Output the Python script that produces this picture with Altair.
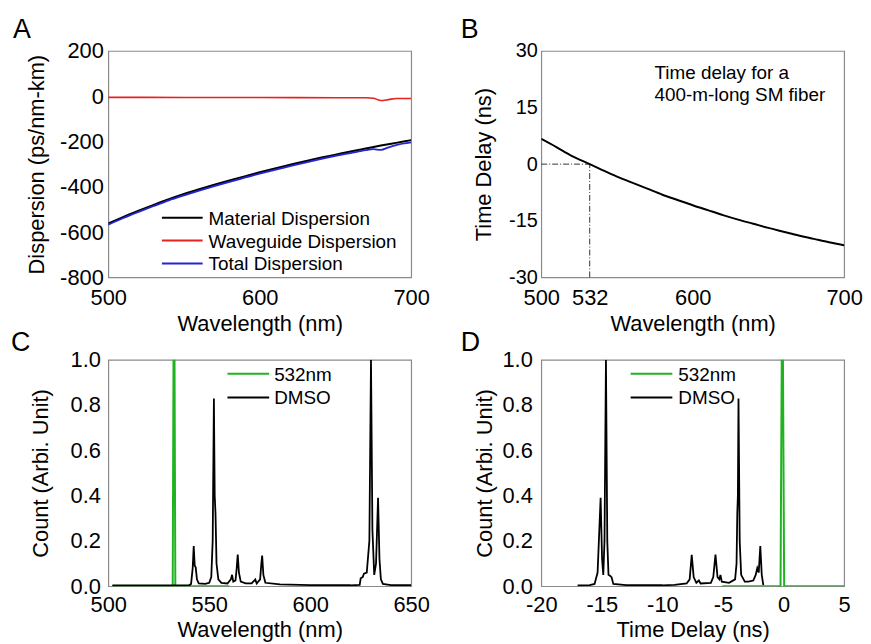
import altair as alt
import pandas as pd

FONT = "Liberation Sans"

# ---------------- Panel A: dispersion ----------------
wl_a = [500, 510, 520, 530, 540, 550, 560, 570, 580, 590, 600,
        610, 620, 630, 640, 650, 660, 670, 680, 690, 700]
material = [-562, -533, -506, -480, -455, -432, -411, -391, -372, -354, -336,
            -319, -303, -287, -272, -258, -244, -231, -218, -206, -194]
wg_x = [500, 550, 600, 650, 670, 675, 680, 685, 690, 700]
wg_y = [-5, -5.5, -6, -6.5, -7, -9, -19, -15, -10, -10]
tot_x = [500, 510, 520, 530, 540, 550, 560, 570, 580, 590, 600,
         610, 620, 630, 640, 650, 660, 670, 675, 680, 685, 690, 700]
tot_y = [-567, -538, -511, -485, -460, -438, -417, -397, -378, -360, -342,
         -325, -309, -293, -278, -264, -251, -238, -234, -237, -226, -216, -204]
legend_a = ["Material Dispersion", "Waveguide Dispersion", "Total Dispersion"]
colors_a = ["#000000", "#e3231f", "#2424d4"]

# ---------------- Panel B: time delay ----------------
wl_b = [500, 510, 520, 532, 540, 550, 560, 570, 580, 590, 600,
        610, 620, 630, 640, 650, 660, 670, 680, 690, 700]
delay = [6.7, 4.5, 2.2, 0.0, -1.5, -3.3, -4.9, -6.5, -8.1, -9.5, -10.9,
         -12.2, -13.5, -14.7, -15.8, -16.9, -17.9, -18.9, -19.8, -20.7, -21.5]
note_b = ["Time delay for a", "400-m-long SM fiber"]

# ---------------- Panel C: spectrum vs wavelength ----------------
green_c_x = [502, 531.9, 532.3, 532.8, 533.2, 560]
green_c_y = [0, 0, 1.0, 1.0, 0, 0]
dmso_c_x = [502, 530, 540, 541, 541.8, 542.3, 542.8, 543.3, 543.9, 544.8, 548,
            550, 551, 551.7, 552.3, 552.7, 553.1, 553.6, 554.5, 556, 559,
            560.7, 561.3, 561.9, 563, 563.6, 564.1, 564.7, 565.6, 568, 571,
            572.8, 573.5, 575.2, 575.8, 576.2, 576.8, 577.8, 585, 600, 620,
            624.5, 625, 626, 626.6, 628, 629.3, 630.1, 630.8, 631.7, 632.6,
            633.6, 634.3, 635, 636, 640, 650]
dmso_c_y = [0.003, 0.003, 0.004, 0.01, 0.08, 0.177, 0.09, 0.083, 0.03, 0.012, 0.01,
            0.015, 0.04, 0.2, 0.829, 0.4, 0.32, 0.1, 0.03, 0.015, 0.012,
            0.03, 0.05, 0.02, 0.025, 0.08, 0.14, 0.06, 0.02, 0.012, 0.012,
            0.03, 0.012, 0.03, 0.1, 0.135, 0.05, 0.015, 0.008, 0.005, 0.004,
            0.006, 0.035, 0.04, 0.055, 0.06, 0.2, 1.0, 0.25, 0.05, 0.1,
            0.39, 0.12, 0.03, 0.01, 0.005, 0.004]

# ---------------- Panel D: spectrum vs time delay ----------------
green_d_x = [-5.07, -0.25, -0.15, -0.05, 0.05, 5]
green_d_y = [0, 0, 1.0, 1.0, 0, 0]
dmso_d_x = [-17.0, -16.0, -15.6, -15.35, -15.1, -14.98, -14.88, -14.78, -14.66,
            -14.55, -14.45, -14.3, -14.2, -14.05, -13.0, -10.0, -9.0, -8.0,
            -7.75, -7.58, -7.42, -7.2, -6.99, -6.85, -6.0, -5.8, -5.62, -5.45,
            -5.3, -5.21, -5.1, -4.5, -4.0, -3.88, -3.82, -3.77, -3.72, -3.62,
            -3.5, -3.2, -2.9, -2.5, -2.3, -2.17, -2.05, -1.92, -1.8, -1.67]
dmso_d_y = [0.003, 0.005, 0.01, 0.06, 0.39, 0.12, 0.05, 0.2, 1.0,
            0.2, 0.05, 0.045, 0.04, 0.01, 0.005, 0.004, 0.006, 0.012,
            0.03, 0.138, 0.04, 0.015, 0.025, 0.012, 0.015, 0.04, 0.14, 0.04,
            0.03, 0.05, 0.02, 0.015, 0.03, 0.1, 0.32, 0.4, 0.829, 0.2,
            0.05, 0.02, 0.02, 0.025, 0.05, 0.08, 0.06, 0.177, 0.05, 0.005]
legend_cd = ["532nm", "DMSO"]
colors_cd = ["#1fb41f", "#000000"]

W, H = 305, 228
HYPHEN = "replace(datum.label, '\u2212', '-')"


def xy(xs, ys):
    return pd.DataFrame({"x": xs, "y": ys})


def x_axis(values, title, label_pad, title_y, fmt=None):
    kw = dict(values=values, title=title, labelFontSize=22, labelFont=FONT,
              labelColor="black", ticks=False, domain=False, grid=False,
              labelPadding=label_pad, labelFlush=False, labelOverlap=False,
              labelExpr=HYPHEN,
              titleFontSize=22, titleFont=FONT, titleFontWeight="normal",
              titleColor="black", titleY=title_y, titleBaseline="alphabetic")
    if fmt:
        kw["format"] = fmt
    return alt.Axis(**kw)


def y_axis(values, title, label_pad, title_x, label_size=22, fmt=None):
    kw = dict(values=values, title=title, labelFontSize=label_size, labelFont=FONT,
              labelColor="black", ticks=False, domain=False, grid=False,
              labelPadding=label_pad, labelFlush=False, labelOverlap=False,
              labelExpr=HYPHEN,
              titleFontSize=22, titleFont=FONT, titleFontWeight="normal",
              titleColor="black", titleX=title_x, titleY=H / 2, titleAngle=270,
              titleAlign="center", titleBaseline="middle")
    if fmt:
        kw["format"] = fmt
    return alt.Axis(**kw)


def line(df, color, xscale, yscale, xax, yax, width=1.8, interp="linear"):
    return alt.Chart(df).mark_line(color=color, strokeWidth=width,
                                   interpolate=interp, clip=True).encode(
        x=alt.X("x:Q", scale=xscale, axis=xax),
        y=alt.Y("y:Q", scale=yscale, axis=yax),
    )


def letter(ch, xpx, ypx):
    return alt.Chart(pd.DataFrame({"t": [ch]})).mark_text(
        align="left", baseline="alphabetic", fontSize=27, font=FONT, color="black"
    ).encode(text="t:N", x=alt.value(xpx), y=alt.value(ypx))


def legend_entries(labels, colors, x0, x1, xt, ys, fs=19):
    parts = []
    for lab, col, yy in zip(labels, colors, ys):
        parts.append(alt.Chart(pd.DataFrame({"t": [lab]})).mark_rule(
            color=col, strokeWidth=2).encode(
            x=alt.value(x0), x2=alt.value(x1), y=alt.value(yy)))
        parts.append(alt.Chart(pd.DataFrame({"t": [lab]})).mark_text(
            align="left", baseline="middle", fontSize=fs, font=FONT, color="black"
        ).encode(text="t:N", x=alt.value(xt), y=alt.value(yy + 1)))
    return parts


# ---- Panel A ----
xs_a = alt.Scale(domain=[500, 700], nice=False, zero=False)
ys_a = alt.Scale(domain=[-800, 200], nice=False, zero=False)
xa_a = x_axis([500, 600, 700], "Wavelength (nm)", 10, 54)
ya_a = y_axis([-800, -600, -400, -200, 0, 200], "Dispersion (ps/nm-km)", 5, -72)
panel_a = alt.layer(
    line(xy(wl_a, material), colors_a[0], xs_a, ys_a, xa_a, ya_a, 2.0, "monotone"),
    line(xy(wg_x, wg_y), colors_a[1], xs_a, ys_a, xa_a, ya_a, 1.6, "monotone"),
    line(xy(tot_x, tot_y), colors_a[2], xs_a, ys_a, xa_a, ya_a, 1.8, "monotone"),
    *legend_entries(legend_a, colors_a, 54, 95, 101, [168, 191, 214]),
    letter("A", -96, -13),
).properties(width=W, height=H)

# ---- Panel B ----
xs_b = alt.Scale(domain=[500, 700], nice=False, zero=False)
ys_b = alt.Scale(domain=[-30, 30], nice=False, zero=False)
xa_b = x_axis([500, 532, 600, 700], "Wavelength (nm)", 10, 54)
ya_b = y_axis([-30, -15, 0, 15, 30], "Time Delay (ns)", 4, -58, label_size=20)
guide_h = alt.Chart(xy([500, 532], [0, 0])).mark_line(
    color="#333333", strokeWidth=1, strokeDash=[6, 2, 1, 2]).encode(
    x=alt.X("x:Q", scale=xs_b, axis=xa_b), y=alt.Y("y:Q", scale=ys_b, axis=ya_b))
guide_v = alt.Chart(xy([532, 532], [-30, 0])).mark_line(
    color="#333333", strokeWidth=1, strokeDash=[6, 2, 1, 2]).encode(
    x=alt.X("x:Q", scale=xs_b, axis=xa_b), y=alt.Y("y:Q", scale=ys_b, axis=ya_b))
note_parts = [
    alt.Chart(pd.DataFrame({"t": [txt]})).mark_text(
        align="left", baseline="alphabetic", fontSize=19, font=FONT, color="black"
    ).encode(text="t:N", x=alt.value(114), y=alt.value(yy))
    for txt, yy in zip(note_b, [28, 50])
]
panel_b = alt.layer(
    guide_h, guide_v,
    line(xy(wl_b, delay), "#000000", xs_b, ys_b, xa_b, ya_b, 2.0, "monotone"),
    *note_parts,
    letter("B", -81, -13),
).properties(width=W, height=H)

# ---- Panel C ----
xs_c = alt.Scale(domain=[500, 650], nice=False, zero=False)
ys_c = alt.Scale(domain=[0, 1], nice=False, zero=False)
xa_c = x_axis([500, 550, 600, 650], "Wavelength (nm)", 9, 51)
ya_c = y_axis([0, 0.2, 0.4, 0.6, 0.8, 1.0], "Count (Arbi. Unit)", 8, -68, fmt=".1f")
panel_c = alt.layer(
    line(xy(green_c_x, green_c_y), colors_cd[0], xs_c, ys_c, xa_c, ya_c, 2.0),
    line(xy(dmso_c_x, dmso_c_y), colors_cd[1], xs_c, ys_c, xa_c, ya_c, 1.8),
    *legend_entries(legend_cd, colors_cd, 120, 162, 167, [14, 38]),
    letter("C", -98, -9),
).properties(width=W, height=H)

# ---- Panel D ----
xs_d = alt.Scale(domain=[-20, 5], nice=False, zero=False)
ys_d = alt.Scale(domain=[0, 1], nice=False, zero=False)
xa_d = x_axis([-20, -15, -10, -5, 0, 5], "Time Delay (ns)", 9, 51)
ya_d = y_axis([0, 0.2, 0.4, 0.6, 0.8, 1.0], "Count (Arbi. Unit)", 9, -57, fmt=".1f")
panel_d = alt.layer(
    line(xy(green_d_x, green_d_y), colors_cd[0], xs_d, ys_d, xa_d, ya_d, 2.0),
    line(xy(dmso_d_x, dmso_d_y), colors_cd[1], xs_d, ys_d, xa_d, ya_d, 1.8),
    *legend_entries(legend_cd, colors_cd, 90, 132, 138, [14, 38]),
    letter("D", -81, -9),
).properties(width=W, height=H)

chart = alt.concat(
    panel_a, panel_b, panel_c, panel_d,
    columns=2, spacing={"row": 83, "column": 131}, bounds="flush",
).properties(
    padding={"left": 2, "top": 5, "right": 0, "bottom": 0},
    background="white",
).configure_view(
    stroke="#8a8a8a", strokeWidth=1.2
)

chart.save("out.html", embed_options={"renderer": "svg", "actions": False})
